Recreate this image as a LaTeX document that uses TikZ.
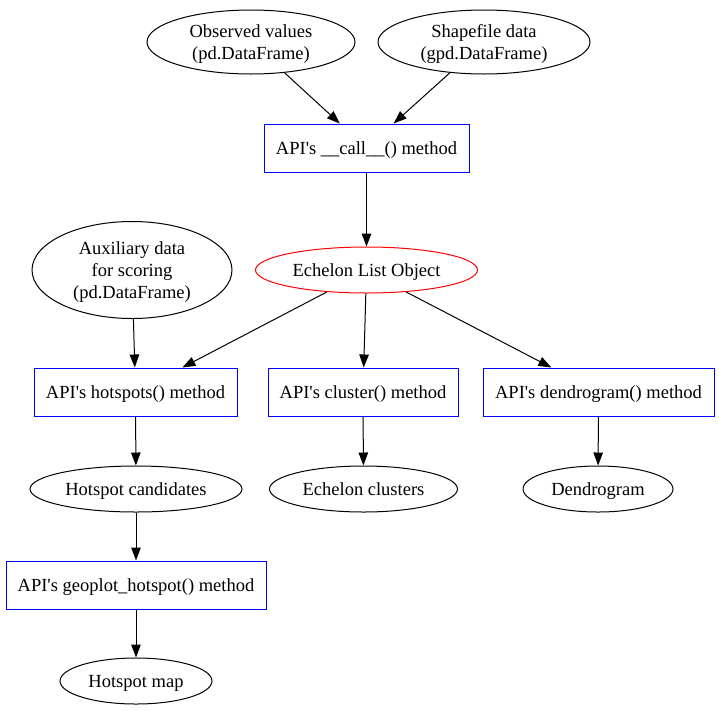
\documentclass[tikz,border=0pt]{standalone}
\usepackage{fontspec}
\setmainfont{Liberation Serif}
\usetikzlibrary{shapes.geometric,arrows.meta}
\newcommand{\mylow}[1]{\raisebox{-2pt}[\height][\depth]{\begin{tabular}{@{}c@{}}#1\end{tabular}}}
\begin{document}
\begin{tikzpicture}[x=1pt,y=-1pt,
  every node/.style={font=\fontsize{18.5}{22}\selectfont, align=center, inner sep=0pt, line width=1pt},
  ell/.style={draw=black, ellipse, minimum height=46pt},
  blk/.style={draw=blue, rectangle, minimum height=48pt},
  arr/.style={line width=1pt, -{Triangle[length=13pt,width=9.5pt]}}]
\useasboundingbox (0,0) rectangle (719,710);
\node[ell, minimum width=208pt, minimum height=64pt] (obs) at (251,42) {\mylow{Observed values\\(pd.DataFrame)}};
\node[ell, minimum width=212pt, minimum height=64pt] (shp) at (484,42) {\mylow{Shapefile data\\(gpd.DataFrame)}};
\node[blk, minimum width=205pt] (call) at (366.5,148) {\mylow{API\textquotesingle s \_\_call\_\_() method}};
\node[ell, draw=red, minimum width=222pt] (ech) at (366.5,270) {\mylow{Echelon List Object}};
\node[ell, minimum width=200pt, minimum height=97pt] (aux) at (132,270) {\mylow{Auxiliary data\\for scoring\\(pd.DataFrame)}};
\node[blk, minimum width=203pt] (hot) at (135.5,392) {\mylow{API\textquotesingle s hotspots() method}};
\node[blk, minimum width=190pt] (clu) at (363,392) {\mylow{API\textquotesingle s cluster() method}};
\node[blk, minimum width=231pt] (den) at (598.5,392) {\mylow{API\textquotesingle s dendrogram() method}};
\node[ell, minimum width=212pt] (cand) at (136,489) {\mylow{Hotspot candidates}};
\node[ell, minimum width=188pt] (eclu) at (363.5,489) {\mylow{Echelon clusters}};
\node[ell, minimum width=150pt] (dend) at (598,489) {\mylow{Dendrogram}};
\node[blk, minimum width=260pt] (geo) at (136,585) {\mylow{API\textquotesingle s geoplot\_hotspot() method}};
\node[ell, minimum width=152pt] (map) at (136,681) {\mylow{Hotspot map}};
\draw[arr] (obs) -- (call);
\draw[arr] (shp) -- (call);
\draw[arr] (call) -- (ech);
\draw[arr] (ech.209) -- (hot);
\draw[arr] (ech) -- (clu);
\draw[arr] (ech.331) -- (den);
\draw[arr] (aux) -- (hot);
\draw[arr] (hot) -- (cand);
\draw[arr] (clu) -- (eclu);
\draw[arr] (den) -- (dend);
\draw[arr] (cand) -- (geo);
\draw[arr] (geo) -- (map);
\end{tikzpicture}
\end{document}
